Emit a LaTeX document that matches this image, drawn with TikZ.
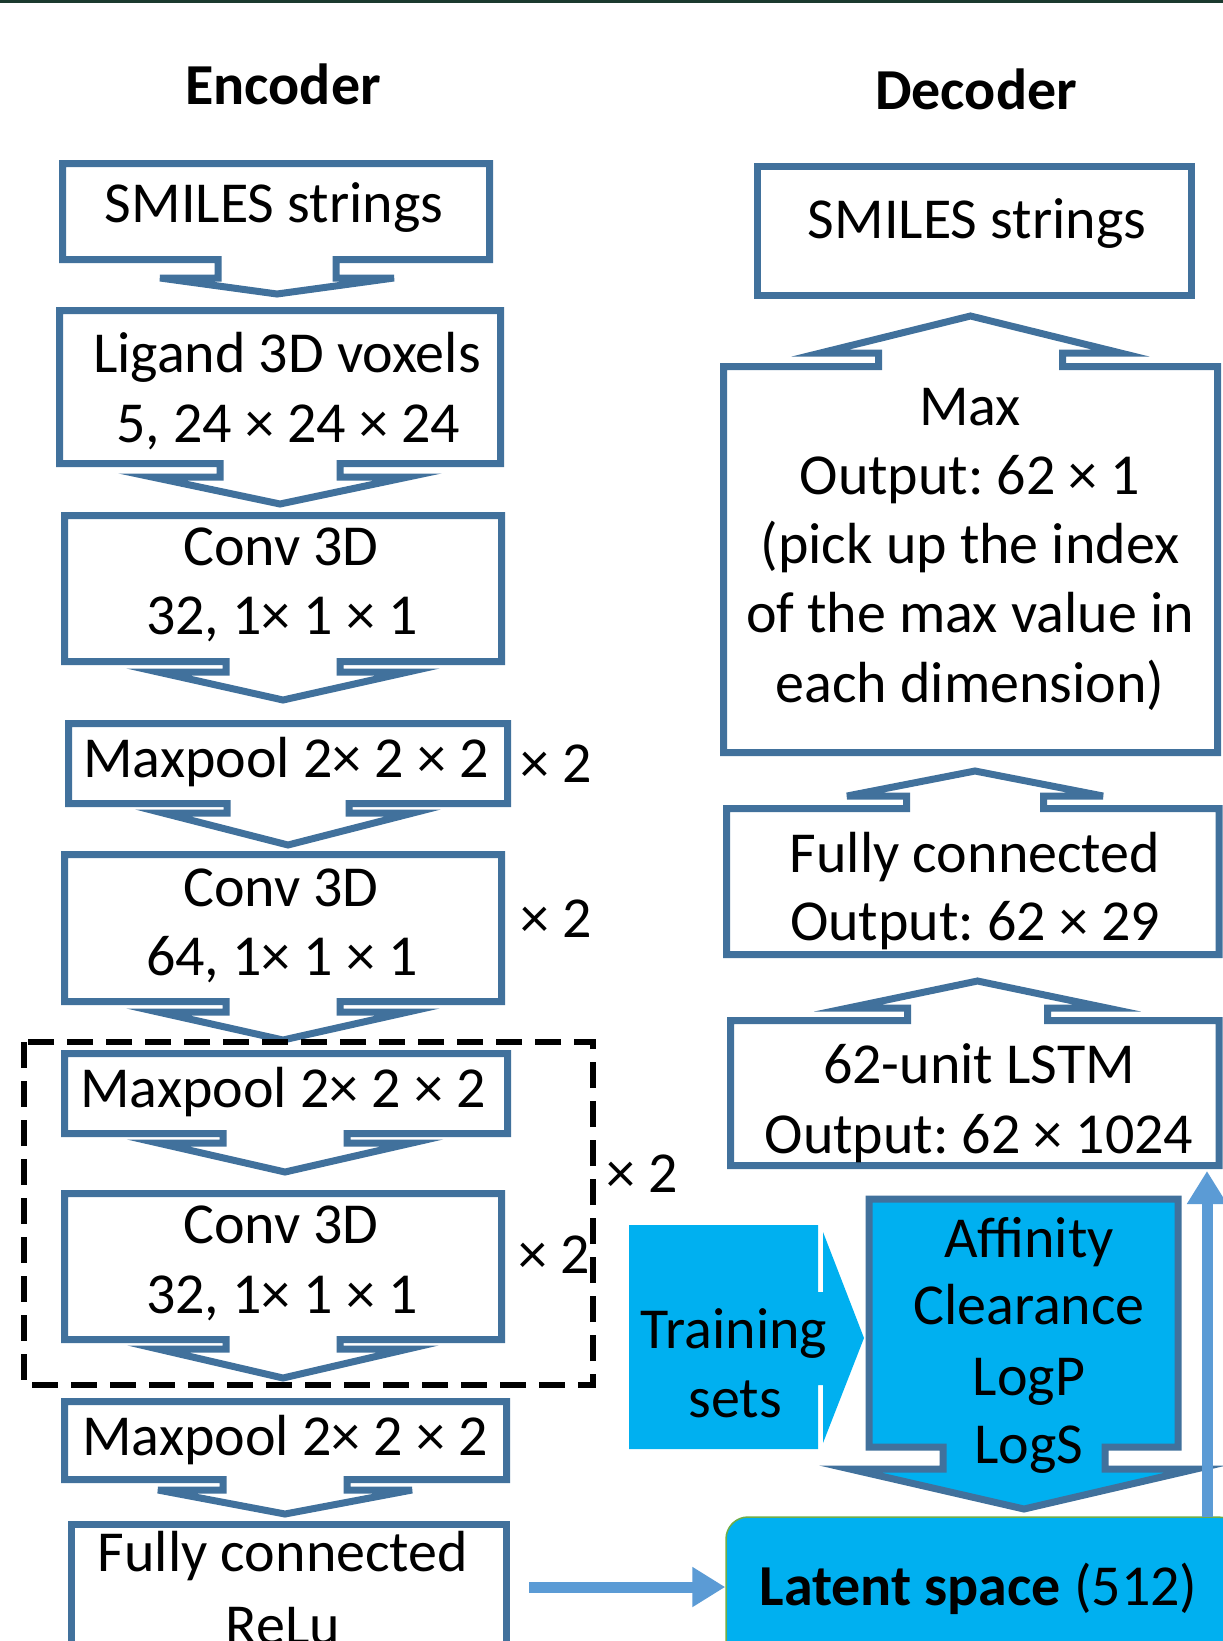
\documentclass[tikz,border=0pt]{standalone}
\usepackage{fontspec}
\setmainfont{Carlito}
\usetikzlibrary{arrows.meta}
\frenchspacing
\definecolor{boxblue}{RGB}{65,113,156}
\definecolor{cyanfill}{RGB}{0,176,240}
\definecolor{lightarrow}{RGB}{91,155,213}
\definecolor{topbar}{RGB}{27,58,47}
\definecolor{latentedge}{RGB}{112,173,71}
\tikzset{
  calloutline/.style={draw=boxblue, line width=7pt, fill=white, line join=miter},
  dashbox/.style={draw=black, line width=6pt, dash pattern=on 26pt off 13pt},
  lbl/.style={anchor=base, inner sep=0pt, font=\fontsize{58}{69.5}\selectfont},
  ttl/.style={anchor=base, inner sep=0pt, font=\fontsize{58}{69.5}\selectfont\bfseries},
  lightarr/.style={draw=lightarrow, line width=11pt, -{Triangle[length=33pt,width=38pt]}},
  latentbox/.style={fill=cyanfill, draw=latentedge, line width=1.5pt, rounded corners=22pt,
    minimum width=514pt, minimum height=203pt, inner sep=0pt},
}
% down-arrow callout: L R T B cx stemhalf winghalf wingy tipy
\newcommand\dncall[9]{\draw[calloutline] (#1,#3) -- (#2,#3) -- (#2,#4) -- ({#5+#6},#4) -- ({#5+#6},#8) -- ({#5+#7},#8) -- (#5,#9) -- ({#5-#7},#8) -- ({#5-#6},#8) -- ({#5-#6},#4) -- (#1,#4) -- cycle;}
% up-arrow callout: L R T B cx stemhalf winghalf wingy tipy
\newcommand\upcall[9]{\draw[calloutline] (#1,#4) -- (#1,#3) -- ({#5-#6},#3) -- ({#5-#6},#8) -- ({#5-#7},#8) -- (#5,#9) -- ({#5+#7},#8) -- ({#5+#6},#8) -- ({#5+#6},#3) -- (#2,#3) -- (#2,#4) -- cycle;}
\begin{document}
\begin{tikzpicture}[x=1pt,y=-1pt]
\useasboundingbox (0,0) rectangle (1223,1641);
\clip (0,0) rectangle (1223,1641);
\fill[white] (0,0) rectangle (1223,1641);
\fill[topbar] (0,0) rectangle (1223,3);

% titles
\node[ttl] (enctitle) at (283,104) {Encoder};
\node[ttl] (dectitle) at (976,109) {Decoder};

% ---------------- Encoder ----------------
\dncall{62.5}{489.5}{163.5}{259.5}{277}{59}{117}{278}{294}
\node[lbl] (e1) at (274,222) {SMILES strings};

\dncall{59.5}{500.5}{310.5}{463.5}{280}{60}{128}{477}{504}
\node[lbl] (e2a) at (287,372) {Ligand 3D voxels};
\node[lbl] (e2b) at (288,442) {5, 24 × 24 × 24};

\dncall{64.5}{501.5}{515.5}{661.5}{283}{57}{125}{672}{700}
\node[lbl] (e3a) at (281,565) {Conv 3D};
\node[lbl] (e3b) at (282,634) {32, 1× 1 × 1};

\dncall{68.5}{507.5}{723.5}{803.5}{288}{61}{125}{813}{845}
\node[lbl] (e4) at (286,777) {Maxpool 2× 2 × 2};
\node[lbl] (x4) at (556,782) {× 2};

\dncall{64.5}{501.5}{854.5}{1001.5}{283}{57}{125}{1012}{1040}
\node[lbl] (e5a) at (281,906) {Conv 3D};
\node[lbl] (e5b) at (282,975) {64, 1× 1 × 1};
\node[lbl] (x5) at (556,937) {× 2};

\dncall{64.5}{507.5}{1053.5}{1133.5}{285}{62}{127}{1143}{1172}
\node[lbl] (e6) at (283,1107) {Maxpool 2× 2 × 2};

\dncall{64.5}{501.5}{1193.5}{1339.5}{283}{57}{125}{1349}{1378}
\node[lbl] (e7a) at (281,1243) {Conv 3D};
\node[lbl] (e7b) at (282,1313) {32, 1× 1 × 1};
\node[lbl] (x7) at (554,1273) {× 2};

\draw[dashbox] (24,1042) rectangle (593,1385);
\node[lbl] (xd) at (642,1192) {× 2};

\dncall{64.5}{506.5}{1401.5}{1479.5}{285}{62}{127}{1490}{1514}
\node[lbl] (e8) at (285,1455) {Maxpool 2× 2 × 2};

\draw[calloutline, fill=none] (71.5,1700) -- (71.5,1524.5) -- (506.5,1524.5) -- (506.5,1700);
\node[lbl] (e9a) at (283,1571) {Fully connected};
\node[lbl] (e9b) at (283,1644) {ReLu};

% ---------------- Decoder ----------------
\draw[calloutline] (757.5,166.5) rectangle (1191.5,295.5);
\node[lbl] (d1) at (977,238) {SMILES strings};

\upcall{723.5}{1217.5}{366.5}{752.5}{970.5}{92}{150}{353}{316}
\node[lbl] (d2a) at (970,425) {Max};
\node[lbl] (d2b) at (970,494) {Output: 62 × 1};
\node[lbl] (d2c) at (970,563) {(pick up the index};
\node[lbl] (d2d) at (970,632) {of the max value in};
\node[lbl] (d2e) at (970,702) {each dimension)};

\upcall{726.5}{1219}{808.5}{954.5}{975}{68.5}{128}{796}{771}
\node[lbl] (d3a) at (975,872) {Fully connected};
\node[lbl] (d3b) at (975,940) {Output: 62 × 29};

\upcall{730.5}{1219}{1020.5}{1165.5}{977.5}{70}{129.5}{1008}{981}
\node[lbl] (d4a) at (979,1083) {62-unit LSTM};
\node[lbl] (d4b) at (979,1153) {Output: 62 × 1024};

% Training sets arrow shape
\fill[cyanfill] (629,1225) -- (818,1225) -- (818,1292) -- (823,1292) -- (823,1232) -- (864,1338) -- (823,1443) -- (823,1385) -- (818,1385) -- (818,1449) -- (629,1449) -- cycle;
\node[lbl] (tr1) at (734,1348) {Training};
\node[lbl] (tr2) at (735,1417) {sets};

% properties callout
\draw[calloutline, fill=cyanfill] (869,1199) -- (1178,1199) -- (1178,1447) -- (1105,1447) -- (1105,1469) -- (1196,1469) -- (1024,1509) -- (850,1469) -- (943,1469) -- (943,1447) -- (869,1447) -- cycle;
\node[lbl] (p1) at (1029,1257) {Affinity};
\node[lbl] (p2) at (1029,1324) {Clearance};
\node[lbl] (p3) at (1029,1395) {LogP};
\node[lbl] (p4) at (1029,1463) {LogS};

% latent space
\node[latentbox] (latent) at (983,1618.5) {};
\node[lbl] (latenttxt) at (978.5,1605) {\textbf{Latent space} (512)};

% connectors
\coordinate (hS) at (529,1587);
\draw[lightarr] (hS) -- (hS -| latent.west);
\coordinate (upX) at (1207,1517);
\coordinate (lstmB) at (1207,1171);
\draw[lightarr] (upX) -- (lstmB);
\end{tikzpicture}
\end{document}
